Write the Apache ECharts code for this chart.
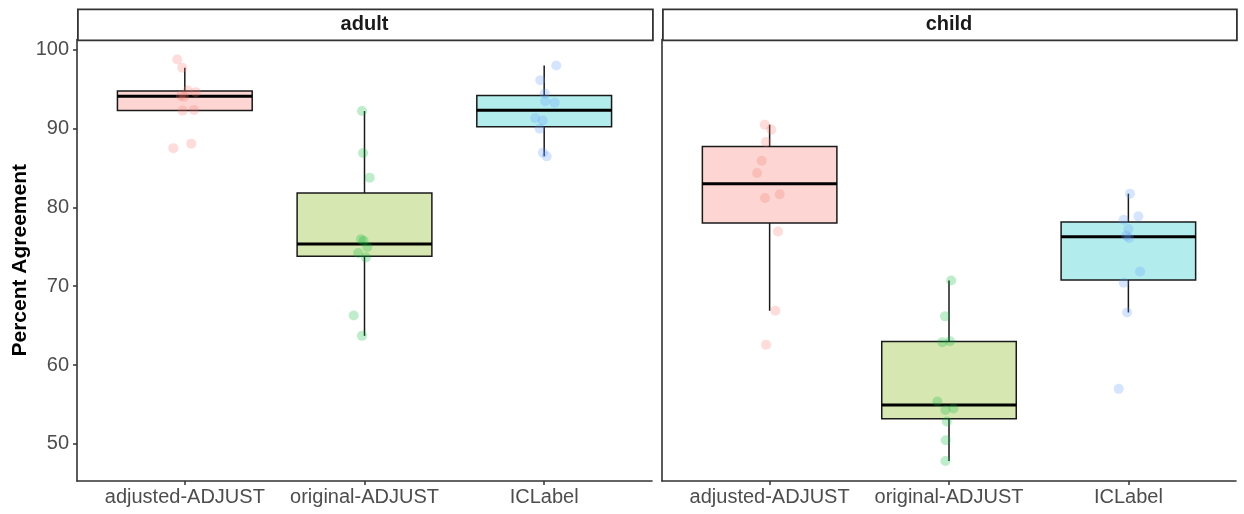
<!DOCTYPE html>
<html>
<head>
<meta charset="utf-8">
<script src="https://cdn.jsdelivr.net/npm/echarts@6/dist/echarts.min.js"></script>
<style>
  html, body { margin: 0; padding: 0; background: #ffffff; }
  #chart { width: 1244px; height: 514px; }
</style>
</head>
<body>
<div id="chart"></div>
<script>
// Facet panels and cleaning methods
const panels = ['adult', 'child'];
const categories = ['adjusted-ADJUST', 'original-ADJUST', 'ICLabel'];
const yTicks = [50, 60, 70, 80, 90, 100];

// Percent agreement per subject, with the horizontal jitter of each point (category units)
const adultAdjusted       = [98.73, 97.70, 94.80, 94.60, 94.15, 94.00, 92.26, 92.35, 87.50, 88.07];
const adultAdjustedJitter = [-0.042, -0.014, 0.016, 0.061, -0.022, -0.005, -0.012, 0.051, -0.064, 0.036];
const adultOriginal       = [92.20, 86.89, 83.76, 75.95, 75.75, 74.96, 74.20, 73.65, 66.28, 63.70];
const adultOriginalJitter = [-0.014, -0.008, 0.029, -0.020, -0.005, 0.016, -0.035, 0.008, -0.060, -0.014];
const adultICLabel        = [97.97, 96.10, 94.42, 93.44, 93.27, 91.33, 91.00, 89.97, 86.93, 86.46];
const adultICLabelJitter  = [0.067, -0.022, 0.003, 0.006, 0.058, -0.050, -0.008, -0.025, -0.007, 0.014];

const childAdjusted       = [90.48, 89.85, 88.29, 85.91, 84.35, 81.18, 81.64, 76.94, 66.88, 62.56];
const childAdjustedJitter = [-0.027, 0.009, -0.020, -0.044, -0.070, -0.026, 0.056, 0.047, 0.032, -0.020];
const childOriginal       = [70.72, 66.17, 62.90, 63.02, 55.37, 54.31, 54.48, 52.83, 50.47, 47.84];
const childOriginalJitter = [0.012, -0.022, -0.037, 0.006, -0.065, -0.020, 0.025, -0.012, -0.018, -0.020];
const childICLabel        = [81.73, 78.85, 78.43, 77.25, 76.40, 76.10, 71.86, 70.43, 66.66, 56.98];
const childICLabelJitter  = [0.009, 0.056, -0.026, 0.000, -0.012, 0.004, 0.065, -0.026, -0.007, -0.054];

const boxFills    = ['rgba(248,118,109,0.3)', 'rgba(124,174,0,0.3)', 'rgba(0,191,196,0.3)'];
const pointColors = ['#F8766D', '#00BA38', '#619CFF'];

const groups = [
  [[adultAdjusted, adultAdjustedJitter], [adultOriginal, adultOriginalJitter], [adultICLabel, adultICLabelJitter]],
  [[childAdjusted, childAdjustedJitter], [childOriginal, childOriginalJitter], [childICLabel, childICLabelJitter]]
];

// Tukey box statistics (type-7 quantiles, whiskers at 1.5 IQR)
function quantile(sorted, p) {
  const h = (sorted.length - 1) * p;
  const lo = Math.floor(h), hi = Math.ceil(h);
  return sorted[lo] + (h - lo) * (sorted[hi] - sorted[lo]);
}
function boxStats(values) {
  const s = values.slice().sort((a, b) => a - b);
  const q1 = quantile(s, 0.25), med = quantile(s, 0.5), q3 = quantile(s, 0.75);
  const iqr = q3 - q1;
  const inside = s.filter(v => v >= q1 - 1.5 * iqr && v <= q3 + 1.5 * iqr);
  return [inside[0], q1, med, q3, inside[inside.length - 1]];
}

// y range: data extent expanded by 5% on each side
const allValues = groups.flat().flatMap(g => g[0]);
const dMin = Math.min(...allValues), dMax = Math.max(...allValues);
const pad = (dMax - dMin) * 0.05;
const yMin = dMin - pad, yMax = dMax + pad;

const FONT = '"Liberation Sans", Arial, sans-serif';
const AXIS_COLOR = '#333333';
const LABEL_COLOR = '#4D4D4D';

const panelBox = [
  { left: 77, right: 652 },
  { left: 662, right: 1236 }
];
const plotTop = 39.5, plotBottom = 481;
const stripTop = 8.5;

const grids = panelBox.map(p => ({
  left: p.left, width: p.right - p.left, top: plotTop, height: plotBottom - plotTop, containLabel: false
}));

const xAxes = panelBox.map((p, i) => ({
  type: 'value', gridIndex: i, min: 0.4, max: 3.6,
  axisLine: { show: true, onZero: false, lineStyle: { color: AXIS_COLOR, width: 1.6 } },
  axisTick: { show: true, length: 4, customValues: [1, 2, 3], lineStyle: { color: AXIS_COLOR, width: 1.5 } },
  axisLabel: {
    show: true, customValues: [1, 2, 3], margin: 6,
    color: LABEL_COLOR, fontSize: 20, fontFamily: FONT,
    formatter: v => categories[Math.round(v) - 1]
  },
  splitLine: { show: false }
}));

const yAxes = panelBox.map((p, i) => ({
  type: 'value', gridIndex: i, min: yMin, max: yMax,
  name: i === 0 ? 'Percent Agreement' : '',
  nameLocation: 'middle', nameGap: 46, nameRotate: 90,
  nameTextStyle: { fontSize: 21, fontWeight: 'bold', color: '#000', fontFamily: FONT },
  axisLine: { show: true, lineStyle: { color: AXIS_COLOR, width: 1.6 } },
  axisTick: { show: i === 0, length: 4, customValues: yTicks, lineStyle: { color: AXIS_COLOR, width: 1.5 } },
  axisLabel: { show: i === 0, customValues: yTicks, margin: 8, color: LABEL_COLOR, fontSize: 20, fontFamily: FONT },
  splitLine: { show: false }
}));

const series = [];
groups.forEach((panelGroups, pi) => {
  // boxes
  const boxData = panelGroups.map((g, ci) => [ci + 1].concat(boxStats(g[0])).concat([ci]));
  series.push({
    type: 'custom', xAxisIndex: pi, yAxisIndex: pi, z: 2, silent: true,
    encode: { x: 0, y: [1, 2, 3, 4, 5] },
    data: boxData,
    renderItem: function (params, api) {
      const x = api.value(0);
      const lo = api.value(1), q1 = api.value(2), med = api.value(3), q3 = api.value(4), hi = api.value(5);
      const ci = api.value(6);
      const half = 0.375;
      const tl = api.coord([x - half, q3]);
      const br = api.coord([x + half, q1]);
      const mL = api.coord([x - half, med]);
      const mR = api.coord([x + half, med]);
      const pHi = api.coord([x, hi]), pQ3 = api.coord([x, q3]);
      const pQ1 = api.coord([x, q1]), pLo = api.coord([x, lo]);
      const edge = '#1a1a1a';
      return {
        type: 'group',
        children: [
          { type: 'line', shape: { x1: pHi[0], y1: pHi[1], x2: pQ3[0], y2: pQ3[1] }, style: { stroke: edge, lineWidth: 1.5 } },
          { type: 'line', shape: { x1: pQ1[0], y1: pQ1[1], x2: pLo[0], y2: pLo[1] }, style: { stroke: edge, lineWidth: 1.5 } },
          { type: 'rect', shape: { x: tl[0], y: tl[1], width: br[0] - tl[0], height: br[1] - tl[1] },
            style: { fill: boxFills[ci], stroke: edge, lineWidth: 1.5 } },
          { type: 'line', shape: { x1: mL[0], y1: mL[1], x2: mR[0], y2: mR[1] }, style: { stroke: '#000', lineWidth: 3 } }
        ]
      };
    }
  });
  // jittered subject points
  panelGroups.forEach((g, ci) => {
    series.push({
      type: 'scatter', xAxisIndex: pi, yAxisIndex: pi, z: 3, silent: true,
      symbol: 'circle', symbolSize: 10,
      itemStyle: { color: pointColors[ci], opacity: 0.26 },
      data: g[0].map((v, k) => [ci + 1 + g[1][k], v])
    });
  });
});

// facet strips
const graphics = [];
panelBox.forEach((p, i) => {
  graphics.push({
    type: 'rect', left: p.left, top: stripTop, z: 10,
    shape: { x: 0, y: 0, width: p.right - p.left, height: plotTop - stripTop },
    style: { fill: '#ffffff', stroke: '#333333', lineWidth: 1.8 }
  });
  graphics.push({
    type: 'text', z: 11,
    x: (p.left + p.right) / 2, y: (stripTop + plotTop) / 2,
    style: { text: panels[i], fontSize: 20, fontWeight: 'bold', fontFamily: FONT, fill: '#1a1a1a',
             align: 'center', verticalAlign: 'middle' }
  });
});

const chart = echarts.init(document.getElementById('chart'), null, { renderer: 'canvas' });
chart.setOption({
  animation: false,
  backgroundColor: '#ffffff',
  grid: grids,
  xAxis: xAxes,
  yAxis: yAxes,
  series: series,
  graphic: graphics
});
</script>
</body>
</html>
